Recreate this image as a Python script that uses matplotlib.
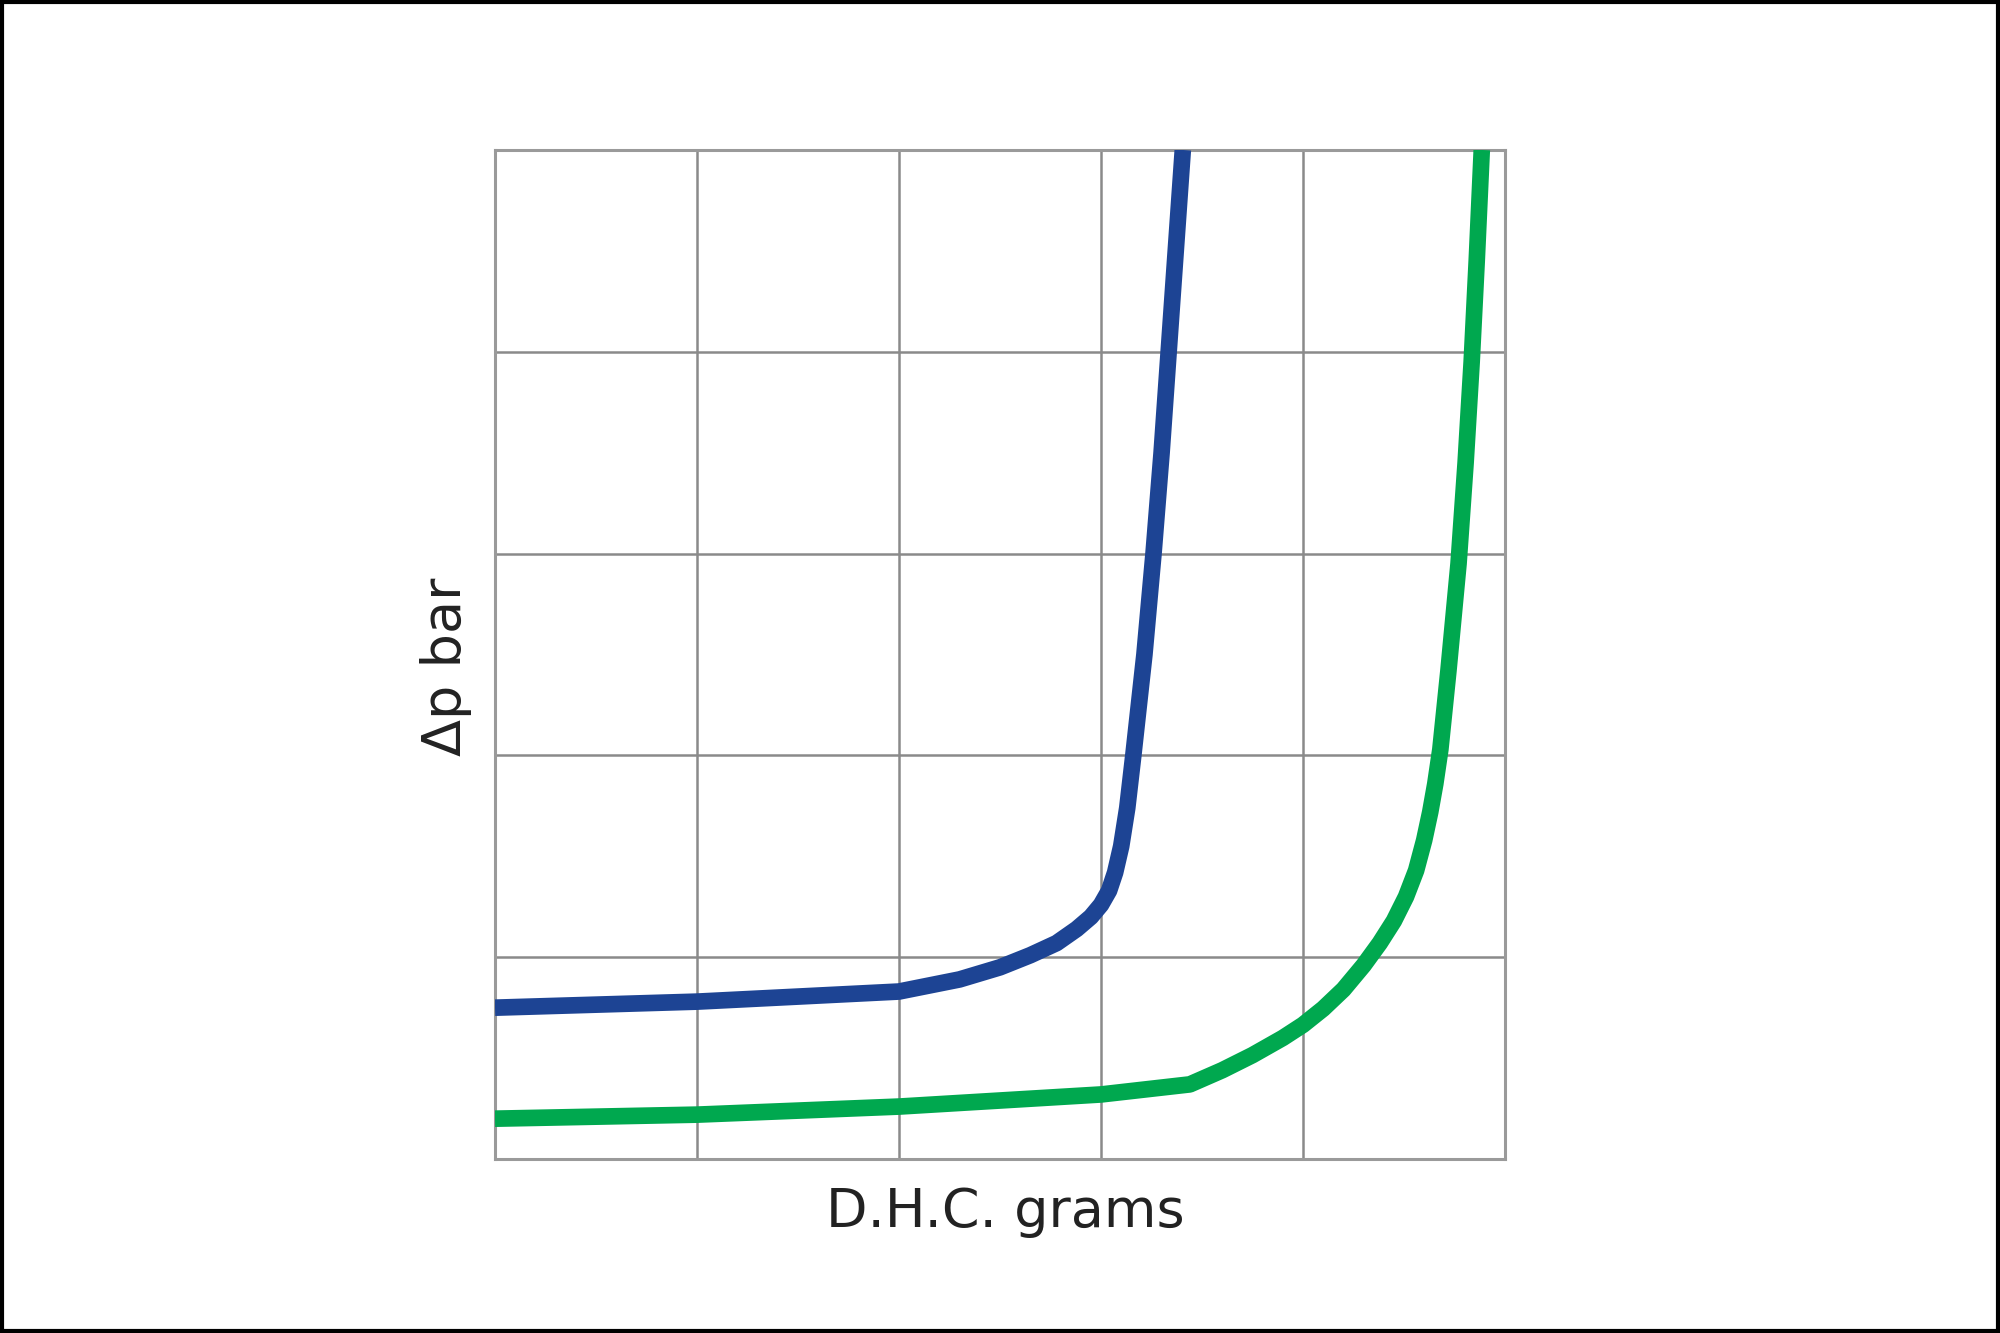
import matplotlib
matplotlib.use("Agg")
import matplotlib.pyplot as plt
from matplotlib.patches import Rectangle

# curve values (grid units, 5 x 5 cells)
blue_x = [0, 1, 2, 2.3, 2.5, 2.65, 2.78, 2.88, 2.95, 3.0, 3.04, 3.07, 3.10, 3.13,
          3.16, 3.215, 3.26, 3.30, 3.335, 3.37, 3.405]
blue_y = [0.75, 0.78, 0.83, 0.89, 0.95, 1.01, 1.07, 1.14, 1.20, 1.26, 1.33, 1.42, 1.55, 1.74,
          2.0, 2.5, 3.0, 3.5, 4.0, 4.5, 5.0]

green_x = [0, 1, 2, 3, 3.44, 3.6, 3.75, 3.9, 4.0, 4.1, 4.2, 4.3, 4.38, 4.45, 4.51,
           4.56, 4.60, 4.63, 4.655, 4.68, 4.72, 4.77, 4.805, 4.835, 4.86, 4.885]
green_y = [0.20, 0.22, 0.26, 0.32, 0.37, 0.44, 0.515, 0.60, 0.665, 0.745, 0.84, 0.96, 1.07, 1.18, 1.30,
           1.43, 1.58, 1.72, 1.86, 2.03, 2.42, 2.95, 3.45, 3.95, 4.45, 5.0]

grid_ticks = [0, 1, 2, 3, 4, 5]
x_label = "D.H.C. grams"
y_label = "\u0394p bar"

plt.rcParams['font.family'] = ['DejaVu Sans']

fig = plt.figure(figsize=(20, 13.33), dpi=100)
ax = fig.add_axes([0.2475, 0.1305, 0.505, 0.757])

ax.plot(blue_x, blue_y, color='#1d4494', lw=12, solid_capstyle='butt',
        solid_joinstyle='round', zorder=3)
ax.plot(green_x, green_y, color='#00a84f', lw=12, solid_capstyle='butt',
        solid_joinstyle='round', zorder=3)

ax.set_xlim(0, 5)
ax.set_ylim(0, 5)
ax.set_xticks(grid_ticks)
ax.set_yticks(grid_ticks)
ax.tick_params(length=0, labelbottom=False, labelleft=False)
ax.grid(True, color='#8a8a8a', lw=1.8)
for s in ax.spines.values():
    s.set_color('#9a9a9a')
    s.set_linewidth(2.2)

fig.text(0.5025, 0.0908, x_label, ha='center', va='center', fontsize=39, color='#222222')
fig.text(0.223, 0.4996, y_label, ha='center', va='center', rotation=90, fontsize=39, color='#222222')

# black frame around the whole picture
fig.patches.append(Rectangle((0.001, 0.0015), 0.998, 0.997, transform=fig.transFigure,
                             fill=False, edgecolor='black', lw=3))

fig.savefig("out.png", dpi=100)
